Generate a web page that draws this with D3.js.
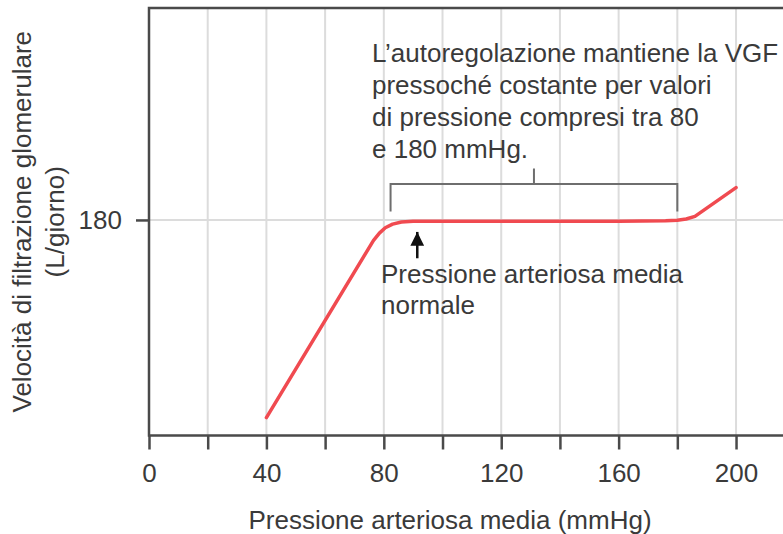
<!DOCTYPE html>
<html>
<head>
<meta charset="utf-8">
<script src="https://cdn.jsdelivr.net/npm/d3@7"></script>
<style>
    body { margin: 0; background: #fff; }
    text { font-family: "Liberation Sans", Arial, sans-serif; fill: #3a3a3a; }
</style>
</head>
<body>
<script>
// Autoregolazione della VGF

// data
let pressure = [40, 76.5, 78.5, 80.5, 83, 86, 90, 160, 176, 180, 183, 186, 200];
let gfr = [15, 163, 169, 173.5, 176.5, 178.3, 179, 179, 179.3, 179.8, 180.8, 183, 207];

let xTicks = [0, 20, 40, 60, 80, 100, 120, 140, 160, 180, 200];
let xLabels = [0, 40, 80, 120, 160, 200];
let yTicks = [180];

let noteLines = ["L\u2019autoregolazione mantiene la VGF", "pressoché costante per valori",
    "di pressione compresi tra 80", "e 180 mmHg."];
let arrowLines = ["Pressione arteriosa media", "normale"];
let yTitle = ["Velocità di filtrazione glomerulare", "(L/giorno)"];
let xTitle = "Pressione arteriosa media (mmHg)";

// range bracket and arrow (data units)
let bracket = { from: 82.3, to: 180, top: 210, bottom: 187, tick: 223 };
let arrowAt = { x: 91.4, tip: 170, tail: 148 };

// svg params
let svgWidth = 783;
let svgHeight = 534;

let svg = d3.select("body")
    .append("svg")
    .attr("width", svgWidth)
    .attr("height", svgHeight);

let x = d3.scaleLinear().domain([0, 216]).range([149, 783]);
let y = d3.scaleLinear().domain([0, 357]).range([435.5, 8]);

// grid
svg.append("g")
    .selectAll("line")
    .data(xTicks.slice(1))
    .enter()
    .append("line")
    .attr("x1", d => x(d))
    .attr("x2", d => x(d))
    .attr("y1", y(357))
    .attr("y2", y(0))
    .attr("stroke", "#dcdcdc")
    .attr("stroke-width", 2);

svg.append("g")
    .selectAll("line")
    .data(yTicks)
    .enter()
    .append("line")
    .attr("x1", x(0))
    .attr("x2", x(216))
    .attr("y1", d => y(d))
    .attr("y2", d => y(d))
    .attr("stroke", "#dcdcdc")
    .attr("stroke-width", 2);

// axes
let xAxis = d3.axisBottom(x)
    .tickValues(xTicks)
    .tickSize(14)
    .tickPadding(14)
    .tickFormat(d => xLabels.includes(d) ? d : "");

let yAxis = d3.axisLeft(y)
    .tickValues(yTicks)
    .tickSize(13)
    .tickPadding(14);

let gx = svg.append("g")
    .attr("transform", `translate(0, ${y(0)})`)
    .call(xAxis);

let gy = svg.append("g")
    .attr("transform", `translate(${x(0)}, 0)`)
    .call(yAxis);

[gx, gy].forEach(g => {
    g.select(".domain").remove();
    g.selectAll(".tick line").attr("stroke", "#4a4a4a").attr("stroke-width", 2.5);
    g.selectAll(".tick text")
        .attr("font-size", 26)
        .attr("font-family", "Liberation Sans, Arial, sans-serif")
        .attr("fill", "#3a3a3a");
});

// frame: left, bottom and top lines
svg.append("path")
    .attr("d", `M${x(216)},${y(357)}H${x(0)}V${y(0)}H${x(216)}`)
    .attr("fill", "none")
    .attr("stroke", "#4a4a4a")
    .attr("stroke-width", 2.5);

// the curve
let line = d3.line()
    .x((d, i) => x(pressure[i]))
    .y(d => y(d))
    .curve(d3.curveLinear);

svg.append("path")
    .attr("d", line(gfr))
    .attr("fill", "none")
    .attr("stroke", "#f04a50")
    .attr("stroke-width", 3.5)
    .attr("stroke-linejoin", "round")
    .attr("stroke-linecap", "round");

// bracket
svg.append("path")
    .attr("d", `M${x(bracket.from)},${y(bracket.bottom)}V${y(bracket.top)}H${x(bracket.to)}V${y(bracket.bottom)}`
        + `M${x((bracket.from + bracket.to) / 2)},${y(bracket.top)}V${y(bracket.tick)}`)
    .attr("fill", "none")
    .attr("stroke", "#6e6e6e")
    .attr("stroke-width", 2);

// arrow
svg.append("defs").append("marker")
    .attr("id", "head")
    .attr("viewBox", "0 0 10 10")
    .attr("refX", 10)
    .attr("refY", 5)
    .attr("markerWidth", 5.5)
    .attr("markerHeight", 5.5)
    .attr("orient", "auto")
    .append("path")
    .attr("d", "M0,0L10,5L0,10Z")
    .attr("fill", "#111");

svg.append("line")
    .attr("x1", x(arrowAt.x))
    .attr("x2", x(arrowAt.x))
    .attr("y1", y(arrowAt.tail))
    .attr("y2", y(arrowAt.tip))
    .attr("stroke", "#111")
    .attr("stroke-width", 2.5)
    .attr("marker-end", "url(#head)");

// annotations
svg.append("text")
    .attr("font-size", 26)
    .selectAll("tspan")
    .data(noteLines)
    .enter()
    .append("tspan")
    .attr("x", 372)
    .attr("y", (d, i) => 62 + i * 32)
    .text(d => d);

svg.append("text")
    .attr("font-size", 26)
    .selectAll("tspan")
    .data(arrowLines)
    .enter()
    .append("tspan")
    .attr("x", 381)
    .attr("y", (d, i) => 283 + i * 31)
    .text(d => d);

// axis titles
svg.append("text")
    .attr("transform", `translate(0, ${(y(0) + y(357)) / 2}) rotate(-90)`)
    .attr("text-anchor", "middle")
    .attr("font-size", 26)
    .selectAll("tspan")
    .data(yTitle)
    .enter()
    .append("tspan")
    .attr("x", 0)
    .attr("y", (d, i) => 31 + i * 33)
    .text(d => d);

svg.append("text")
    .attr("x", 450)
    .attr("y", 529)
    .attr("text-anchor", "middle")
    .attr("font-size", 26)
    .text(xTitle);
</script>
</body>
</html>
